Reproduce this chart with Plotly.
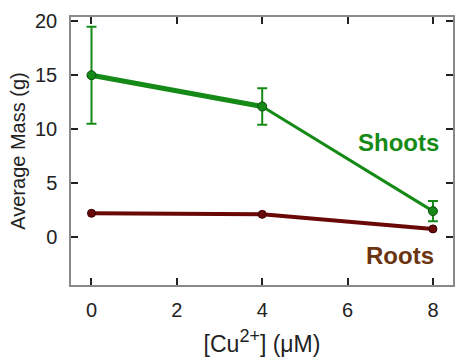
import plotly.graph_objects as go

cu = [0, 4, 8]
shoots = [15.0, 12.1, 2.4]
shoots_err = [4.5, 1.7, 0.95]
roots = [2.2, 2.1, 0.75]
x_ticks = [0, 2, 4, 6, 8]
y_ticks = [0, 5, 10, 15, 20]

GREEN = "#168a16"
MAROON = "#6a0808"
BROWN = "#6b3410"
FONT = "Liberation Sans, Arial, sans-serif"

fig = go.Figure()

# Roots
fig.add_trace(go.Scatter(
    x=cu, y=roots, mode="lines+markers",
    line=dict(color=MAROON, width=4),
    marker=dict(color=MAROON, size=8, line=dict(color="#3a0000", width=1)),
    showlegend=False))

# Shoots: thicker first segment, thinner second
fig.add_trace(go.Scatter(
    x=cu[0:2], y=shoots[0:2], mode="lines",
    line=dict(color=GREEN, width=5), showlegend=False))
fig.add_trace(go.Scatter(
    x=cu[1:3], y=shoots[1:3], mode="lines",
    line=dict(color=GREEN, width=3), showlegend=False))
fig.add_trace(go.Scatter(
    x=cu, y=shoots, mode="markers",
    error_y=dict(type="data", array=shoots_err, visible=True,
                 color=GREEN, thickness=2, width=5),
    marker=dict(color=GREEN, size=9, line=dict(color="#0a4a0a", width=1)),
    showlegend=False))

fig.add_annotation(x=8.18, y=8.8, text="<b>Shoots</b>", showarrow=False,
                   xanchor="right", yanchor="middle",
                   font=dict(family=FONT, size=24, color=GREEN))
fig.add_annotation(x=8.07, y=-1.67, text="<b>Roots</b>", showarrow=False,
                   xanchor="right", yanchor="middle",
                   font=dict(family=FONT, size=24, color=BROWN))

axis_common = dict(
    showline=True, linecolor="#8a8a8a", linewidth=1.5, mirror="ticks",
    ticks="inside", ticklen=7, tickwidth=1.5, tickcolor="#222",
    showgrid=False, zeroline=False, automargin=False,
    tickfont=dict(family=FONT, size=20, color="#222"),
)

fig.update_xaxes(range=[-0.48, 8.47], tickvals=x_ticks, ticklabelstandoff=6,
                 title=dict(text="[Cu<sup><span style='font-size:18px'>2+</span></sup>] (μM)",
                            standoff=18,
                            font=dict(family=FONT, size=23, color="#222")),
                 **axis_common)
fig.update_yaxes(range=[-4.45, 20.4], tickvals=y_ticks, ticklabelstandoff=8,
                 title=dict(text="Average Mass (g)", standoff=4,
                            font=dict(family=FONT, size=20, color="#222")),
                 **axis_common)

fig.update_layout(
    width=455, height=357,
    margin=dict(l=71, r=2, t=17, b=72),
    plot_bgcolor="white", paper_bgcolor="white",
    font=dict(family=FONT),
)

fig.write_html("out.html", config={"displayModeBar": False},
               post_script="document.body.style.margin='0';")
